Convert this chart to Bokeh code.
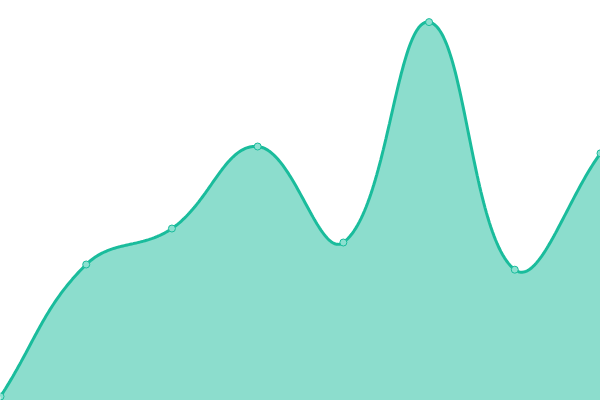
import math
from bokeh.plotting import figure
from bokeh.models import Range1d
from bokeh.embed import file_html
from bokeh.resources import INLINE

# Data
labels = ["1", "2", "3", "4", "5", "6", "7", "8"]
values = [1, 34, 43, 63.5, 39.5, 94.6, 32.7, 61.8]

LINE = "#1abc9c"
FILL = "#1abc9c"
POINT_FILL = "#8ce0d0"

W, H = 600, 400
n = len(values)
xs = list(range(n))

p = figure(width=W, height=H, output_backend="svg", toolbar_location=None,
           x_range=Range1d(0, n - 1), y_range=Range1d(0, 100), min_border=0)
p.axis.visible = False
p.grid.visible = False
p.outline_line_color = None
p.background_fill_color = "white"
p.border_fill_color = "white"

# Spline (tension 0.4, distances in screen space) like a canvas chart line
sx = W / (n - 1)
sy = H / 100.0
tension = 0.4
cps = []
for i in range(n):
    prev_i = max(i - 1, 0)
    next_i = min(i + 1, n - 1)
    px, py = xs[prev_i], values[prev_i]
    cx, cy = xs[i], values[i]
    nx, ny = xs[next_i], values[next_i]
    d01 = math.hypot((cx - px) * sx, (cy - py) * sy)
    d12 = math.hypot((nx - cx) * sx, (ny - cy) * sy)
    tot = d01 + d12
    s01 = d01 / tot if tot else 0
    s12 = d12 / tot if tot else 0
    fa, fb = tension * s01, tension * s12
    cps.append(((cx - fa * (nx - px), cy - fa * (ny - py)),
                (cx + fb * (nx - px), cy + fb * (ny - py))))

cx_pts, cy_pts = [], []
steps = 60
for i in range(n - 1):
    x0, y0 = xs[i], values[i]
    x3, y3 = xs[i + 1], values[i + 1]
    x1, y1 = cps[i][1]
    x2, y2 = cps[i + 1][0]
    for k in range(steps + (1 if i == n - 2 else 0)):
        t = k / steps
        u = 1 - t
        cx_pts.append(u**3 * x0 + 3 * u*u*t * x1 + 3 * u*t*t * x2 + t**3 * x3)
        cy_pts.append(u**3 * y0 + 3 * u*u*t * y1 + 3 * u*t*t * y2 + t**3 * y3)

p.patch(x=[cx_pts[0]] + cx_pts + [cx_pts[-1]], y=[0] + cy_pts + [0],
        fill_color=FILL, fill_alpha=0.5, line_color=None)
p.line(cx_pts, cy_pts, line_color=LINE, line_width=3)
p.scatter(xs, values, size=7, fill_color=POINT_FILL, line_color=LINE, line_width=1)

open("out.html", "w").write(file_html(p, INLINE))
